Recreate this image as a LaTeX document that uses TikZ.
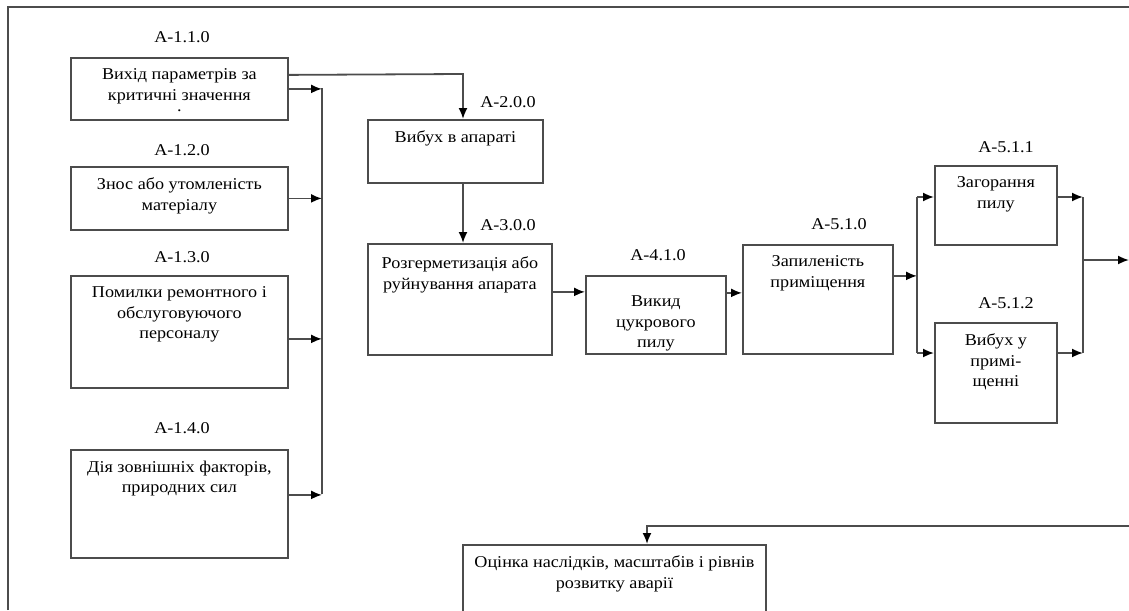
\documentclass[tikz,border=0pt]{standalone}
\usepackage{fontspec}
\setmainfont{Liberation Serif}[FakeStretch=1.1]
\usetikzlibrary{arrows.meta}

\begin{document}
\begin{tikzpicture}[x=1pt,y=-1pt,>={Latex[length=11pt,width=9pt,black]},line width=1.8pt,draw=black!70,
    box/.style={draw=black!70,anchor=north west,inner sep=0pt},
    txt/.style={anchor=north,align=center,inner sep=0pt,yshift=-11pt,text=black,font=\fontsize{16.5}{20.5}\selectfont},
    code/.style={text=black,font=\fontsize{16.5}{20}\selectfont}]
    \useasboundingbox (0,0) rectangle (1129,610);
    \clip (0,0) rectangle (1129,610);
    \draw (8,610) -- (8,7) -- (1129,7);
    % causes
    \node[code] (l110) at (182,37) {A-1.1.0};
    \node[box,minimum width=217,minimum height=62,label={[txt]north:{Вихід параметрів за\\критичні значення\\[-9pt].}}] (b110) at (70,57) {};
    \node[code] (l120) at (182,150) {A-1.2.0};
    \node[box,minimum width=217,minimum height=63,label={[txt]north:{Знос або утомленість\\матеріалу}}] (b120) at (70,166) {};
    \node[code] (l130) at (182,257) {A-1.3.0};
    \node[box,minimum width=217,minimum height=112,label={[txt]north:{Помилки ремонтного і\\обслуговуючого\\персоналу}}] (b130) at (70,275) {};
    \node[code] (l140) at (182,428) {A-1.4.0};
    \node[box,minimum width=217,minimum height=108,label={[txt]north:{Дія зовнішніх факторів,\\природних сил}}] (b140) at (70,449) {};
    % chain
    \node[code] (l200) at (508,102) {A-2.0.0};
    \node[box,minimum width=175,minimum height=63,label={[txt]north:{Вибух в апараті}}] (b200) at (367,119) {};
    \node[code] (l300) at (508,225) {A-3.0.0};
    \node[box,minimum width=184,minimum height=111,label={[txt,yshift=-2pt]north:{Розгерметизація або\\руйнування апарата}}] (b300) at (367,243) {};
    \node[code] (l410) at (658,255) {A-4.1.0};
    \node[box,minimum width=140,minimum height=78,label={[txt,yshift=-9pt]north:{Викид\\цукрового\\пилу}}] (b410) at (585,275) {};
    \node[code] (l510) at (839,224) {A-5.1.0};
    \node[box,minimum width=150,minimum height=109,label={[txt]north:{Запиленість\\приміщення}}] (b510) at (742,244) {};
    \node[code] (l511) at (1006,147) {A-5.1.1};
    \node[box,minimum width=122,minimum height=79,label={[txt]north:{Загорання\\пилу}}] (b511) at (934,165) {};
    \node[code] (l512) at (1006,303) {A-5.1.2};
    \node[box,minimum width=122,minimum height=100,label={[txt]north:{Вибух у\\примі-\\щенні}}] (b512) at (934,322) {};
    \node[box,minimum width=303,minimum height=90,label={[txt]north:{Оцінка наслідків, масштабів і рівнів\\розвитку аварії}}] (bout) at (462,544) {};
    % left bus
    \coordinate (busL) at (322,88);
    \coordinate (busLend) at (322,494);
    \draw (busL) -- (busLend);
    \draw[->] (b110.east) -- (b110.east -| busL);
    \draw[->] (b120.east) -- (b120.east -| busL);
    \draw[->] ([yshift=-7pt]b130.east) coordinate (a3) -- (a3 -| busL);
    \draw[->] ([yshift=9pt]b140.east) coordinate (a4) -- (a4 -| busL);
    \coordinate (c2) at (463,74);
    \draw[->] ([yshift=14pt]b110.east) -- (c2) -- (c2 |- b200.north);
    \draw[->] (b200.south -| c2) -- (b300.north -| c2);
    \draw[->] ([yshift=7.5pt]b300.east) coordinate (a5) -- (a5 -| b410.west);
    \draw[->] ([yshift=22pt]b410.east) coordinate (a6) -- (a6 -| b510.west);
    % fork
    \coordinate (fk1) at (917,197);
    \coordinate (fk2) at (917,353);
    \draw[->] ([yshift=23.5pt]b510.east) coordinate (a7) -- (a7 -| fk1);
    \draw (fk1) -- (fk2);
    \draw[->] (fk1) -- (fk1 -| b511.west);
    \draw[->] (fk2) -- (fk2 -| b512.west);
    \coordinate (rb1) at (1083,197);
    \coordinate (rb2) at (1083,353);
    \coordinate (rbo) at (1083,260);
    \coordinate (out) at (1129,260);
    \draw[->] (b511.east |- rb1) -- (rb1);
    \draw[->] (b512.east |- rb2) -- (rb2);
    \draw (rb1) -- (rb2);
    \draw[->] (rbo) -- (out);
    % back to assessment
    \coordinate (in) at (1129,526);
    \coordinate (bt) at (647,526);
    \draw[->] (in) -- (bt) -- (bt |- bout.north);
\end{tikzpicture}
\end{document}
